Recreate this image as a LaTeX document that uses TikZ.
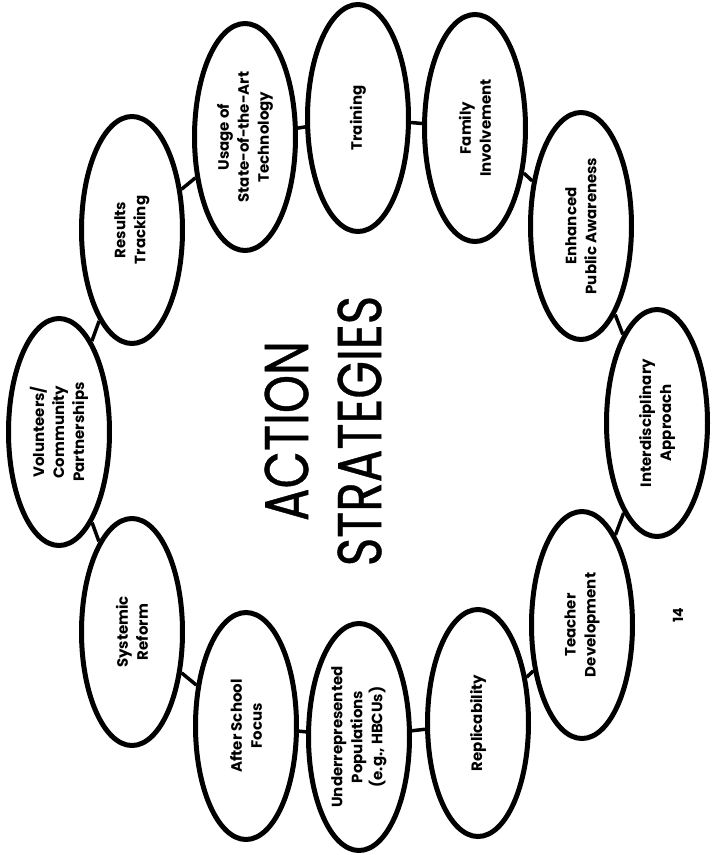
\documentclass[tikz,border=0pt]{standalone}
\usepackage{fontspec}
\setmainfont{Poppins}
\newfontfamily\titlefont{Poppins}[FakeStretch=0.78,FakeBold=0.6]
\usetikzlibrary{shapes.geometric}

\begin{document}
\begin{tikzpicture}[x=1pt,y=-1pt]
    \tikzstyle{strategy}=[ellipse,draw=black,line width=5pt,minimum width=227pt,minimum height=101pt,inner sep=0pt,rotate=90,align=center,font=\fontsize{15}{20}\selectfont\bfseries]
    \tikzstyle{link}=[draw=black,line width=3.5pt]
    \tikzstyle{heading}=[rotate=90,align=center,font=\titlefont\fontsize{62}{73}\selectfont]

    \useasboundingbox (0,0) rectangle (714,855);

    % Draw the strategies, clockwise from the top
    \node[strategy] (training)    at (358,118) {Training};
    \node[strategy] (family)      at (475,128) {Family\\Involvement};
    \node[strategy] (awareness)   at (581,226) {Enhanced\\Public Awareness};
    \node[strategy] (interdis)    at (657,423) {Interdisciplinary\\Approach};
    \node[strategy] (teacher)     at (582,625) {Teacher\\Development};
    \node[strategy] (replic)      at (478,723) {Replicability};
    \node[strategy] (underrep)    at (359,737) {Underrepresented\\Populations\\(e.g., HBCUs)};
    \node[strategy] (afterschool) at (246,726) {After School\\Focus};
    \node[strategy] (systemic)    at (132,632) {Systemic\\Reform};
    \node[strategy] (volunteers)  at (59,432)  {Volunteers/\\Community\\Partnerships};
    \node[strategy] (results)     at (132,230) {Results\\Tracking};
    \node[strategy] (usage)       at (245,137) {Usage of\\State-of-the-Art\\Technology};

    % Link every strategy with the next one round the ring
    \foreach \source/\dest in {training/family,family/awareness,awareness/interdis,
        interdis/teacher,teacher/replic,replic/underrep,underrep/afterschool,
        afterschool/systemic,systemic/volunteers,volunteers/results,results/usage,usage/training}
        \path (\source) edge[link] (\dest);

    % Title in the middle
    \node[heading] (title) at (323,431) {ACTION\\STRATEGIES};

    \node[rotate=90,font=\fontsize{14}{14}\selectfont\bfseries] (pageno) at (678,615) {14};
\end{tikzpicture}
\end{document}
